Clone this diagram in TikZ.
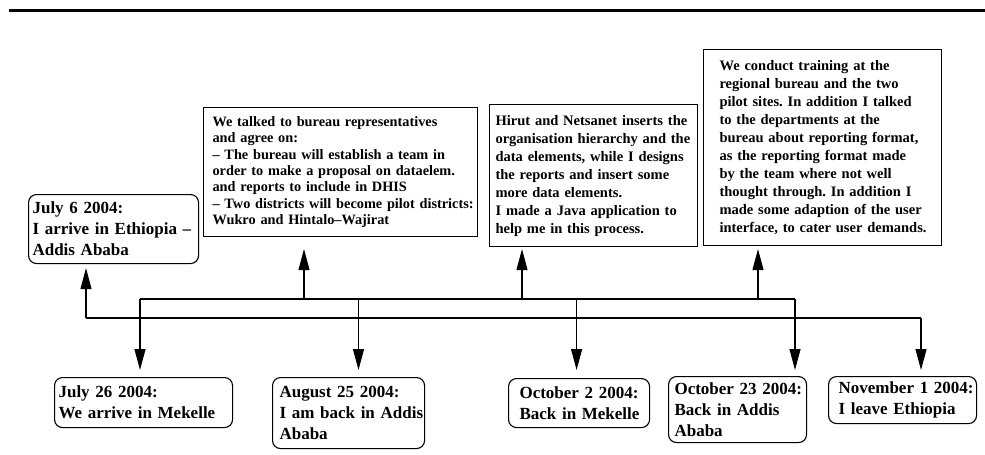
\documentclass[tikz,border=0pt]{standalone}
\usepackage{fontspec}
\setmainfont{Liberation Serif}
\usetikzlibrary{arrows.meta}
\frenchspacing
\begin{document}
\begin{tikzpicture}[x=1pt,y=-1pt,
  box/.style={draw, line width=1.1pt, anchor=north west, inner xsep=0pt, inner ysep=0pt,
    align=left, font=\bfseries\fontsize{14.5}{18}\selectfont},
  event/.style={box, rounded corners=8pt, font=\bfseries\fontsize{17}{21}\selectfont},
  padl/.style={execute at begin node={\leftskip=#1\relax\rightskip=-40pt plus 1fil\relax
    \hyphenpenalty=10000\relax}},
  link/.style={line width=1.1pt},
  arr/.style={link, -{Triangle[length=21pt,width=11pt]}}
]
\useasboundingbox (0,0) rectangle (985,455);

% heading rule
\draw[line width=3pt] (9,10) -- (985,10);

% what happened during each stay
\node[box, padl=9pt, text width=274pt, minimum height=129pt,
      font=\bfseries\fontsize{14.3}{16.4}\selectfont] (b2) at (203,107)
  {We talked to bureau representatives\\
   and agree on:\\
   – The bureau will establish a team in\\
   order to make a proposal on dataelem.\\
   and reports to include in DHIS\\
   – Two districts will become pilot districts:\\
   Wukro and Hintalo–Wajirat};
\node[box, padl=6pt, text width=208pt, minimum height=142pt] (b3) at (489,104)
  {Hirut and Netsanet inserts the\\
   organisation hierarchy and the\\
   data elements, while I designs\\
   the reports and insert some\\
   more data elements.\\
   I made a Java application to\\
   help me in this process.};
\node[box, padl=16pt, text width=238pt, minimum height=196pt] (b4) at (703,49)
  {We conduct training at the\\
   regional bureau and the two\\
   pilot sites. In addition I talked\\
   to the departments at the\\
   bureau about reporting format,\\
   as the reporting format made\\
   by the team where not well\\
   thought through. In addition I\\
   made some adaption of the user\\
   interface, to cater user demands.};

% dated events
\node[event, padl=4pt, text width=170pt, minimum height=69pt] (b1) at (28,194)
  {July 6 2004:\\I arrive in Ethiopia –\\Addis Ababa};
\node[event, padl=4pt, text width=178pt, minimum height=50pt] (c1) at (54,377)
  {July 26 2004:\\We arrive in Mekelle};
\node[event, padl=7pt, text width=152pt, minimum height=71pt] (c2) at (272,377)
  {August 25 2004:\\I am back in Addis\\Ababa};
\node[event, padl=11pt, text width=141pt, minimum height=49pt] (c3) at (508,378)
  {October 2 2004:\\Back in Mekelle};
\node[event, padl=6pt, text width=138pt, minimum height=66pt] (c4) at (668,376)
  {October 23 2004:\\Back in Addis\\Ababa};
\node[event, padl=10pt, text width=148pt, minimum height=47pt] (c5) at (828,376)
  {November 1 2004:\\I leave Ethiopia};

% bus taps
\coordinate (u1) at (140,299);
\coordinate (u2) at (358.5,299);
\coordinate (u3) at (576.6,299);
\coordinate (u4) at (795,299);
\coordinate (p2) at (304,299);
\coordinate (p3) at (522,299);
\coordinate (p4) at (758,299);
\coordinate (l0) at (86,318);
\coordinate (l5) at (921,318);

% buses
\draw[link] (u1) -- (u4);
\draw[link] (l0) -- (l5);

% arrows
\draw[arr, shorten >=4pt] (l0) -- (l0 |- b1.south);
\draw[arr, shorten >=12pt] (p2) -- (p2 |- b2.south);
\draw[arr, shorten >=2pt] (p3) -- (p3 |- b3.south);
\draw[arr, shorten >=3pt] (p4) -- (p4 |- b4.south);
\draw[arr, shorten >=7pt] (u1) -- (u1 |- c1.north);
\draw[arr, shorten >=7pt] (u2) -- (u2 |- c2.north);
\draw[arr, shorten >=8pt] (u3) -- (u3 |- c3.north);
\draw[arr, shorten >=6pt] (u4) -- (u4 |- c4.north);
\draw[arr, shorten >=6pt] (l5) -- (l5 |- c5.north);
\end{tikzpicture}
\end{document}
